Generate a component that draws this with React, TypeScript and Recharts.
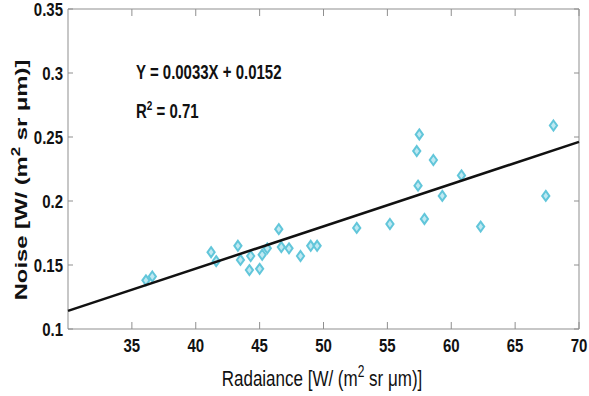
import React from 'react'
import { ScatterChart, Scatter, XAxis, YAxis } from 'recharts'

// measured points (radiance vs noise)
const radiance = [36.1, 36.6, 41.2, 41.6, 43.3, 43.5, 44.2, 44.3, 45.0, 45.2, 45.6, 46.5, 46.7, 47.3, 48.2, 49.0, 49.5, 52.6, 55.2, 57.3, 57.5, 57.4, 57.9, 58.6, 59.3, 60.8, 62.3, 67.4, 68.0]
const noise = [0.138, 0.141, 0.160, 0.153, 0.165, 0.154, 0.146, 0.157, 0.147, 0.158, 0.163, 0.178, 0.164, 0.163, 0.157, 0.165, 0.165, 0.179, 0.182, 0.239, 0.252, 0.212, 0.186, 0.232, 0.204, 0.220, 0.180, 0.204, 0.259]

// regression line end points
const fitX = [30, 70]
const fitY = [0.1142, 0.2462]

const xTicks = [35, 40, 45, 50, 55, 60, 65, 70]
const yTicks = [0.1, 0.15, 0.2, 0.25, 0.3, 0.35]

const points = radiance.map((x, i) => ({ x, y: noise[i] }))
const fit = fitX.map((x, i) => ({ x, y: fitY[i] }))

const AXIS = '#8f8f8f'
const MARKER = '#62c6da'
const FONT = 'Arial, "Liberation Sans", sans-serif'
const SY = 1.25 // the picture is stretched a bit vertically

function Diamond({ cx, cy }: { cx?: number; cy?: number }) {
  if (cx == null || cy == null) return <g />
  const w = 3.6, h = 5
  return (
    <polygon
      points={`${cx},${cy - h} ${cx + w},${cy} ${cx},${cy + h} ${cx - w},${cy}`}
      fill="#bfe9f2" stroke={MARKER} strokeWidth={2}
    />
  )
}

function BottomTick({ x, y, payload }: any) {
  return (
    <g>
      <line x1={x} y1={y} x2={x} y2={y - 7} stroke={AXIS} />
      <text transform={`translate(${x},${y + 23}) scale(1,${SY})`} textAnchor="middle"
        fontFamily={FONT} fontWeight="bold" fontSize={15} fill="#111">{payload.value}</text>
    </g>
  )
}

function LeftTick({ x, y, payload }: any) {
  return (
    <g>
      <line x1={x + 5} y1={y} x2={x + 10} y2={y} stroke={AXIS} />
      <text transform={`translate(${x},${y + 7}) scale(1,${SY})`} textAnchor="end"
        fontFamily={FONT} fontWeight="bold" fontSize={15} fill="#111">{payload.value}</text>
    </g>
  )
}

function TopTick({ x, y }: any) {
  return <line x1={x} y1={y} x2={x} y2={y + 7} stroke={AXIS} />
}

function RightTick({ x, y }: any) {
  return <line x1={x} y1={y} x2={x - 5} y2={y} stroke={AXIS} />
}

export default function App() {
  return (
    <div style={{ position: 'absolute', left: 0, top: 0, width: 589, height: 396, background: '#fff' }}>
      <ScatterChart width={589} height={396} margin={{ top: 8, right: 9, bottom: 0, left: 8 }}>
        <XAxis dataKey="x" type="number" domain={[30, 70]} ticks={xTicks} interval={0}
          height={67} tickSize={0} tickMargin={0} tickLine={false} axisLine={{ stroke: AXIS }} tick={<BottomTick />} />
        <XAxis xAxisId="top" orientation="top" dataKey="x" type="number" domain={[30, 70]} ticks={xTicks} interval={0}
          height={1} tickSize={0} tickMargin={0} tickLine={false} axisLine={{ stroke: AXIS }} tick={<TopTick />} />
        <YAxis dataKey="y" type="number" domain={[0.1, 0.35]} ticks={yTicks} interval={0}
          width={60} tickSize={0} tickMargin={5} tickLine={false} axisLine={{ stroke: AXIS }} tick={<LeftTick />} />
        <YAxis yAxisId="right" orientation="right" dataKey="y" type="number" domain={[0.1, 0.35]} ticks={yTicks} interval={0}
          width={1} tickSize={0} tickMargin={0} tickLine={false} axisLine={{ stroke: AXIS }} tick={<RightTick />} />
        <Scatter data={points} shape={<Diamond />} isAnimationActive={false} />
        {/* the fit line uses the top/right axes (same domains) so that those box edges get drawn */}
        <Scatter data={fit} xAxisId="top" yAxisId="right" line={{ stroke: '#111', strokeWidth: 2.5 }} lineType="joint"
          shape={() => <g />} isAnimationActive={false} />
      </ScatterChart>
      <svg width={589} height={396} style={{ position: 'absolute', left: 0, top: 0, pointerEvents: 'none' }}>
        <g fontFamily={FONT} fill="#111">
          <text transform={`translate(136,79) scale(1,1.3)`} fontWeight="bold" fontSize={15}>Y = 0.0033X + 0.0152</text>
          <text transform={`translate(136,118) scale(1,1.3)`} fontWeight="bold" fontSize={15}>
            R<tspan dy={-6} fontSize={10}>2</tspan><tspan dy={6}> = 0.71</tspan>
          </text>
          <text transform={`translate(322,386) scale(1,1.3)`} textAnchor="middle" fontSize={17}>
            Radaiance [W/ (m<tspan dy={-7} fontSize={12}>2</tspan><tspan dy={7}> sr μm)]</tspan>
          </text>
          <text transform={`translate(27,180) rotate(-90) scale(1.4,1)`} textAnchor="middle" fontWeight="bold" fontSize={17}>
            Noise [W/ (m<tspan dy={-7} fontSize={12}>2</tspan><tspan dy={7}> sr μm)]</tspan>
          </text>
        </g>
      </svg>
    </div>
  )
}
